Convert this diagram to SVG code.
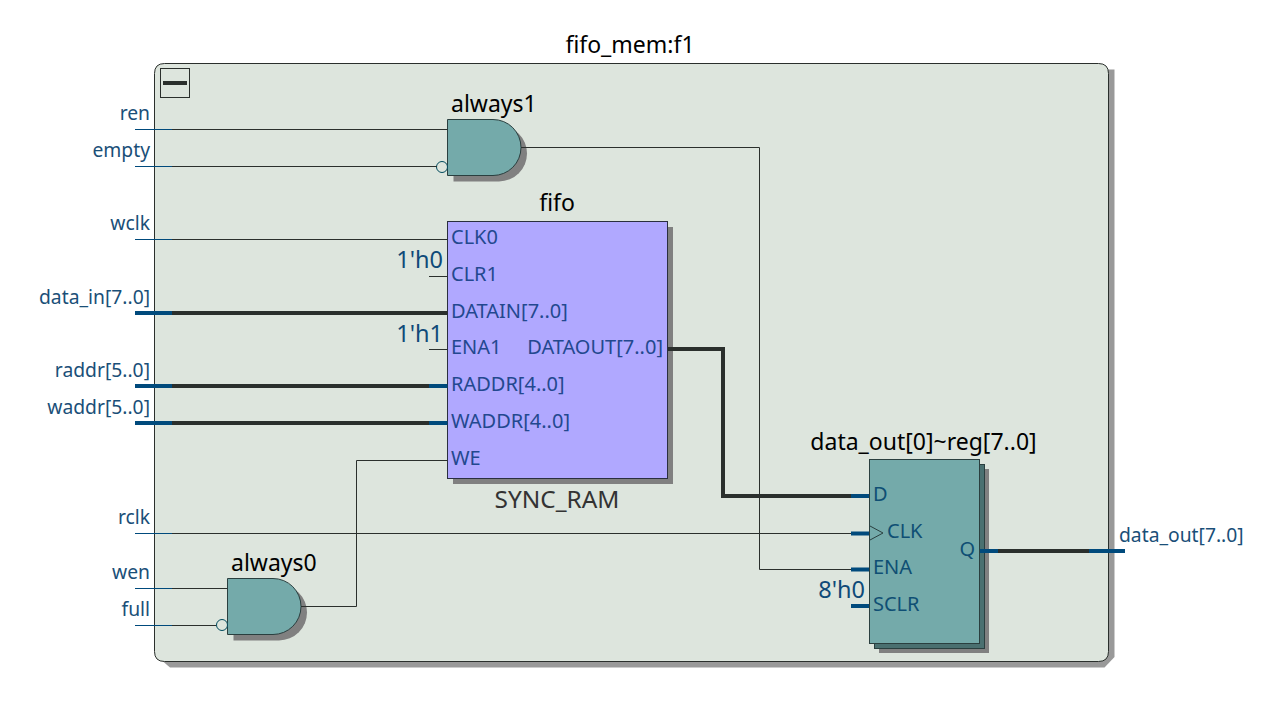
<svg xmlns="http://www.w3.org/2000/svg" width="1262" height="716" viewBox="0 0 1262 716">
<style>
text{font-family:"Noto Sans","Open Sans","Liberation Sans",sans-serif}
.t{fill:#000;font-size:23px}
.p{fill:#1a4f78;font-size:19.300px}
.pi{fill:#23488f;font-size:20px}
.pt{fill:#0f4f74;font-size:20px}
.c{fill:#0f4a78;font-size:23.500px}
.e{text-anchor:end}
.m{text-anchor:middle}
.w{fill:none;stroke:#2a2f2c;stroke-width:1}
.b{fill:none;stroke:#2a2f2c;stroke-width:4}
.wb{fill:none;stroke:#004a7c;stroke-width:1}
.bb{fill:none;stroke:#004a7c;stroke-width:4}
.s{fill:#808080}
.g{fill:#74aaaa;stroke:#2a3f3f;stroke-width:1}
</style>
<defs>
<path id="gate" d="M0 0H45.500A28 28 0 0 1 45.500 56H0Z"/>
</defs>
<g id="frame">
<path d="M163 69.500H1114.500V657L1104.500 667.500H170L163 661.500Z" fill="#999"/>
<path d="M164.500 63.500H1098.500Q1108.500 63.500 1108.500 73.500V651.500Q1108.500 661.500 1098.500 661.500H164.500Q154.500 661.500 154.500 651.500V73.500Q154.500 63.500 164.500 63.500Z" fill="#dde5dd" stroke="#2a2f2c"/>
<rect x="160.500" y="68.500" width="29" height="29" fill="none" stroke="#2a2f2c"/>
<rect x="163" y="81" width="24" height="4" fill="#2a2f2c"/>
<text class="t m" x="630" y="53">fifo_mem:f1</text>
</g>
<g id="always1">
<use href="#gate" x="453.500" y="125.500" class="s"/>
<use href="#gate" x="447.500" y="119.500" class="g"/>
<circle cx="442" cy="167" r="5.500" fill="#dde5dd" stroke="#004a5c"/>
<text class="t" x="451" y="112">always1</text>
</g>
<g id="always0">
<use href="#gate" x="233.500" y="584.500" class="s"/>
<use href="#gate" x="227.500" y="578.500" class="g"/>
<circle cx="222" cy="625" r="5.500" fill="#dde5dd" stroke="#004a5c"/>
<text class="t" x="231" y="571">always0</text>
</g>
<g id="fifo">
<rect x="453" y="227" width="220" height="257" class="s"/>
<rect x="447.500" y="221.500" width="220" height="257" fill="#b0a8ff" stroke="#2a2f3f"/>
<text class="t m" x="557" y="211">fifo</text>
<text class="pi" x="451" y="244">CLK0</text>
<text class="pi" x="451" y="281">CLR1</text>
<text class="pi" x="451" y="318">DATAIN[7..0]</text>
<text class="pi" x="451" y="354">ENA1</text>
<text class="pi" x="451" y="391">RADDR[4..0]</text>
<text class="pi" x="451" y="428">WADDR[4..0]</text>
<text class="pi" x="451" y="465">WE</text>
<text class="pi e" x="663" y="354">DATAOUT[7..0]</text>
<text class="m" x="557" y="508" style="font-size:24.400px;fill:#333">SYNC_RAM</text>
<text class="c e" x="443" y="268">1'h0</text>
<text class="c e" x="443" y="342">1'h1</text>
</g>
<g id="reg">
<rect x="879" y="469" width="110" height="184" class="s"/>
<rect x="874.500" y="464.500" width="110" height="184" fill="#4a7070" stroke="#2a3f3f"/>
<rect x="869.500" y="459.500" width="110" height="184" fill="#74aaaa" stroke="#2a3f3f"/>
<path d="M870 526L883 533L870 540" fill="none" stroke="#2a3f3f"/>
<text class="t m" x="923.500" y="450">data_out[0]~reg[7..0]</text>
<text class="pt" x="873" y="501">D</text>
<text class="pt" x="887" y="538">CLK</text>
<text class="pt" x="873" y="574">ENA</text>
<text class="pt" x="873" y="611">SCLR</text>
<text class="pt e" x="975" y="556">Q</text>
<text class="c e" x="865" y="598">8'h0</text>
</g>
<g id="connectors">
<path class="w" d="M135 129.500H447.500M135 166.500H437M135 239.500H447.500M429 276.500H447.500M429 349.500H447.500M135 533.500H851M135 588.500H227.500M135 625.500H216"/>
<path class="w" d="M521 147.500H759.500V569.500H851"/>
<path class="w" d="M301 606.500H356.500V460.500H447.500"/>
<path class="b" d="M135 313H447.500M135 386H447.500M135 423H447.500"/>
<path class="b" d="M668 349H723V496H851"/>
<path class="b" d="M980 551H1125"/>
<path class="bb" d="M135 313H172M135 386H172M135 423H172M429 386H447.500M429 423H447.500"/>
<path class="wb" d="M135 129.500H172M135 166.500H172M135 239.500H172M135 533.500H172M135 588.500H172M135 625.500H172"/>
<path class="bb" d="M851 496H869M851 533.500H869M851 569.500H869M851 606H869M980 551H998M1089 551H1125"/>
</g>
<g id="ports">
<text class="p e" x="150" y="120">ren</text>
<text class="p e" x="150" y="157">empty</text>
<text class="p e" x="150" y="230">wclk</text>
<text class="p e" x="150" y="304">data_in[7..0]</text>
<text class="p e" x="150" y="377">raddr[5..0]</text>
<text class="p e" x="150" y="414">waddr[5..0]</text>
<text class="p e" x="150" y="524">rclk</text>
<text class="p e" x="150" y="579">wen</text>
<text class="p e" x="150" y="616">full</text>
<text class="p" x="1119" y="542">data_out[7..0]</text>
</g>
</svg>
